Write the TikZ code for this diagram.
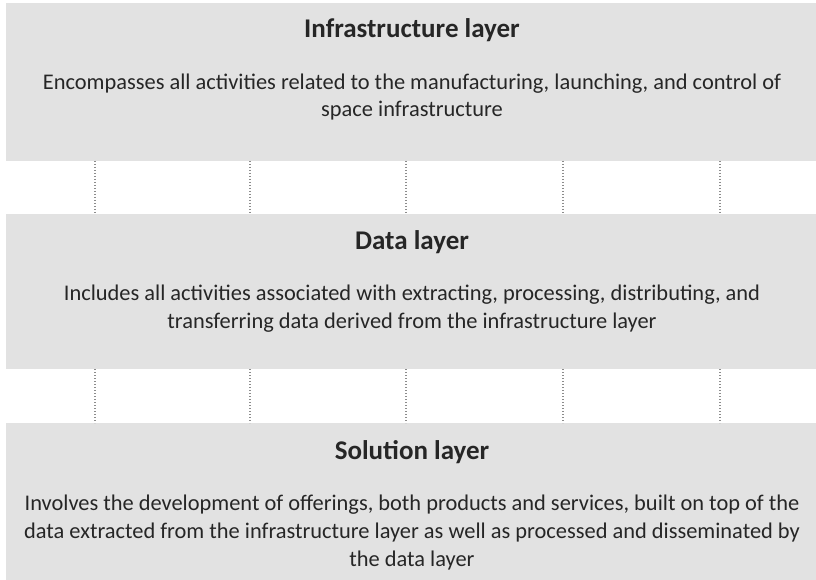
\documentclass[tikz,border=0pt]{standalone}
\usepackage{fontspec}
\setmainfont{Carlito}
\begin{document}
\begin{tikzpicture}[x=1pt,y=-1pt,
  layerbox/.style={fill=boxgray,draw=none},
  ttl/.style={font=\fontsize{27}{30}\selectfont\bfseries,text=txtgray,anchor=base,inner sep=0pt},
  body/.style={font=\fontsize{22.4}{27.8}\selectfont,text=txtgray,align=center,anchor=base,inner sep=0pt},
  link/.style={draw=dotgray,line width=1.1pt,dash pattern=on 1.1pt off 1.9pt}]
\definecolor{boxgray}{RGB}{226,226,226}
\definecolor{txtgray}{RGB}{38,38,38}
\definecolor{dotgray}{RGB}{140,140,140}
\useasboundingbox (0,0) rectangle (816,580);
\fill[white] (0,0) rectangle (816,580);
\path[layerbox] (6,3) rectangle (816,161);
\path[layerbox] (6,214) rectangle (816,369);
\path[layerbox] (6,423) rectangle (816,580);
\node[ttl] (title1) at (412,38) {Infrastructure layer};
\node[body] (text1) at (412,117) {Encompasses all activities related to the manufacturing, launching, and control of\\space infrastructure};
\node[ttl] (title2) at (412,249) {Data layer};
\node[body] (text2) at (412,328) {Includes all activities associated with extracting, processing, distributing, and\\transferring data derived from the infrastructure layer};
\node[ttl] (title3) at (412,459) {Solution layer};
\node[body] (text3) at (412,566) {Involves the development of offerings, both products and services, built on top of the\\data extracted from the infrastructure layer as well as processed and disseminated by\\the data layer};
\foreach \x in {95,250,406,563,720}{
  \draw[link] (\x,161) -- (\x,214);
  \draw[link] (\x,369) -- (\x,423);
}
\end{tikzpicture}
\end{document}
